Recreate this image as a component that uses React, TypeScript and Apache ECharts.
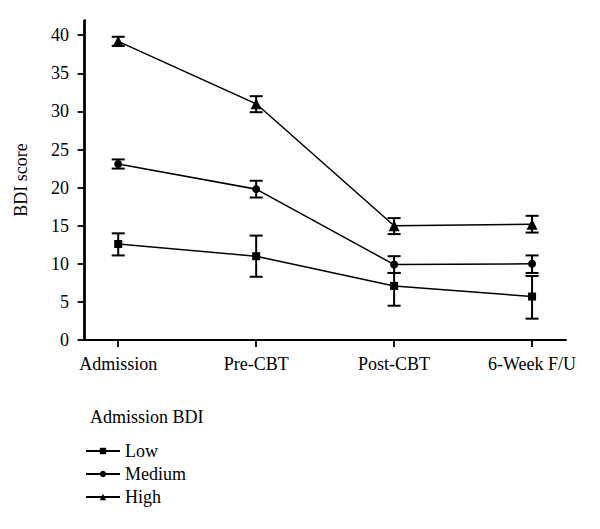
import React, { useEffect, useRef } from "react";
import * as echarts from "echarts";

const categories = ["Admission", "Pre-CBT", "Post-CBT", "6-Week F/U"];
const yTicks = [0, 5, 10, 15, 20, 25, 30, 35, 40];

const lowMean = [12.6, 11.0, 7.1, 5.7];
const lowLower = [11.1, 8.3, 4.5, 2.8];
const lowUpper = [14.0, 13.7, 8.8, 8.4];

const mediumMean = [23.1, 19.8, 9.9, 10.0];
const mediumLower = [22.5, 18.7, 8.8, 8.8];
const mediumUpper = [23.7, 20.9, 11.0, 11.1];

const highMean = [39.2, 31.0, 15.0, 15.2];
const highLower = [38.6, 29.9, 13.9, 14.1];
const highUpper = [39.8, 32.0, 16.0, 16.3];

// layout constants
const X_PAD = 0.244;
const X_MIN = -0.004;
const X_MAX = 3.49;
const Y_MAX = 42;
const GRID = { left: 84, right: 34, top: 20, bottom: 189 };

const FONT = "'Liberation Serif', 'DejaVu Serif', serif";
const catPos = categories.map((_, i) => i + X_PAD);

function errorSeries(name: string, lower: number[], upper: number[]) {
  return {
    type: "custom",
    name: name + "-err",
    silent: true,
    z: 3,
    data: lower.map((l, i) => [catPos[i], l, upper[i]]),
    renderItem: (params: any, api: any) => {
      const x = api.value(0);
      const lo = api.coord([x, api.value(1)]);
      const hi = api.coord([x, api.value(2)]);
      const w = 6.5;
      const style = { stroke: "#000", lineWidth: 2 };
      return {
        type: "group",
        children: [
          { type: "line", shape: { x1: lo[0], y1: lo[1], x2: hi[0], y2: hi[1] }, style },
          { type: "line", shape: { x1: lo[0] - w, y1: lo[1], x2: lo[0] + w, y2: lo[1] }, style },
          { type: "line", shape: { x1: hi[0] - w, y1: hi[1], x2: hi[0] + w, y2: hi[1] }, style },
        ],
      };
    },
  };
}

function lineSeries(name: string, values: number[], symbol: string, size: number) {
  return {
    type: "line",
    name,
    data: values.map((v, i) => [catPos[i], v]),
    symbol,
    symbolSize: size,
    z: 4,
    lineStyle: { color: "#000", width: 1.5 },
    itemStyle: { color: "#000" },
  };
}

export default function App() {
  const ref = useRef<HTMLDivElement>(null);
  useEffect(() => {
    if (!ref.current) return;
    const chart = echarts.init(ref.current, undefined, { renderer: "svg" });
    chart.setOption({
      animation: false,
      backgroundColor: "#fff",
      title: {
        text: "Admission BDI",
        left: 85,
        top: 403,
        textStyle: { fontFamily: FONT, fontSize: 18, fontWeight: "normal", color: "#000" },
      },
      legend: {
        orient: "vertical",
        left: 80,
        top: 437,
        itemWidth: 34,
        itemHeight: 8,
        itemGap: 5,
        data: ["Low", "Medium", "High"],
        textStyle: { fontFamily: FONT, fontSize: 18, color: "#000" },
      },
      grid: { ...GRID, containLabel: false, outerBoundsMode: "none" },
      graphic: [
        {
          type: "rect",
          z: 100,
          silent: true,
          shape: { x: GRID.left - 0.9, y: GRID.top, width: 1.8, height: 529 - GRID.top - GRID.bottom + 1 },
          style: { fill: "#000" },
        },
      ],
      xAxis: {
        type: "value",
        min: X_MIN,
        max: X_MAX,
        splitLine: { show: false },
        axisLine: { show: true, lineStyle: { color: "#000", width: 1.8 } },
        axisTick: { show: true, length: 7, lineStyle: { color: "#000", width: 1.8 }, customValues: catPos },
        axisLabel: {
          customValues: catPos,
          formatter: (v: number) => categories[Math.round(v - X_PAD)] ?? "",
          fontFamily: FONT,
          fontSize: 18,
          color: "#000",
          margin: 15,
        },
      },
      yAxis: {
        type: "value",
        min: 0,
        max: Y_MAX,
        name: "BDI score",
        nameLocation: "middle",
        nameGap: 54,
        nameTextStyle: { fontFamily: FONT, fontSize: 18, color: "#000" },
        splitLine: { show: false },
        axisLine: { show: true, lineStyle: { color: "#000", width: 1.8 } },
        axisTick: { show: true, length: 7, lineStyle: { color: "#000", width: 1.8 }, customValues: yTicks },
        axisLabel: {
          customValues: yTicks,
          fontFamily: FONT,
          fontSize: 18,
          color: "#000",
          margin: 15,
        },
      },
      series: [
        lineSeries("Low", lowMean, "rect", 8),
        lineSeries("Medium", mediumMean, "circle", 8),
        lineSeries("High", highMean, "triangle", 11),
        errorSeries("Low", lowLower, lowUpper),
        errorSeries("Medium", mediumLower, mediumUpper),
        errorSeries("High", highLower, highUpper),
      ],
    });
    return () => chart.dispose();
  }, []);
  return (
    <div
      ref={ref}
      style={{ position: "absolute", left: 0, top: 0, width: 600, height: 529 }}
    />
  );
}
